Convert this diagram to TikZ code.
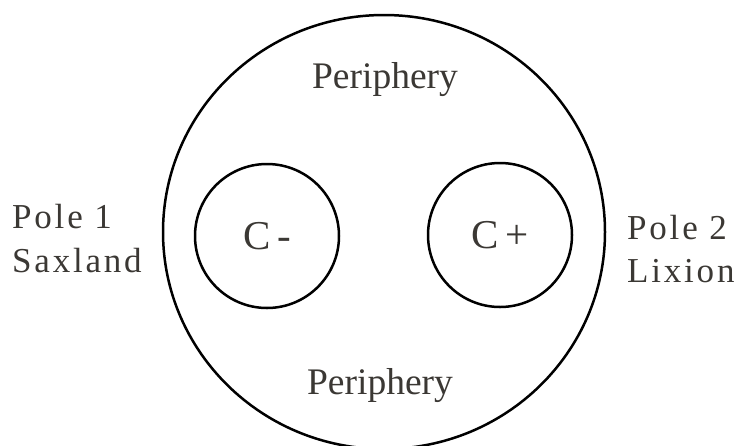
\documentclass[tikz,border=0pt]{standalone}
\usepackage{fontspec}
\setmainfont{Liberation Serif}
\newfontfamily\spacedfont[LetterSpace=8]{Liberation Serif}
\usetikzlibrary{positioning}
\definecolor{inkgray}{HTML}{3B3834}

\begin{document}
\begin{tikzpicture}[
    x=1pt, y=-1pt,
    pole/.style = {draw, circle, line width=2.5pt, minimum size=144pt, inner sep=0pt,
                   text=inkgray, font=\fontsize{41}{44}\selectfont},
    word/.style = {text=inkgray, font=\fontsize{37.5}{40}\selectfont, inner sep=0pt},
    side/.style = {text=inkgray, font=\spacedfont\fontsize{35}{40}\selectfont, inner sep=0pt, anchor=base west}
  ]
  \useasboundingbox (0,0) rectangle (739,445);

  \coordinate (world) at (384,232);
  \draw[line width=2.5pt] (world) ellipse [x radius=221pt, y radius=217pt];

  \node[pole] (cminus) at (267,236) {C\,-};
  \node[pole] (cplus) at (500,235) {C\,+};

  \node[word, anchor=base] (periphery top) at (385,88) {Periphery};
  \node[word, anchor=base] (periphery bottom) at (380,394) {Periphery};

  \node[side] (pole one) at (12,228) {Pole 1};
  \node[side] (saxland) at (12,272) {Saxland};
  \node[side] (pole two) at (627,239) {Pole 2};
  \node[side] (lixion) at (627,282) {Lixion};
\end{tikzpicture}
\end{document}
